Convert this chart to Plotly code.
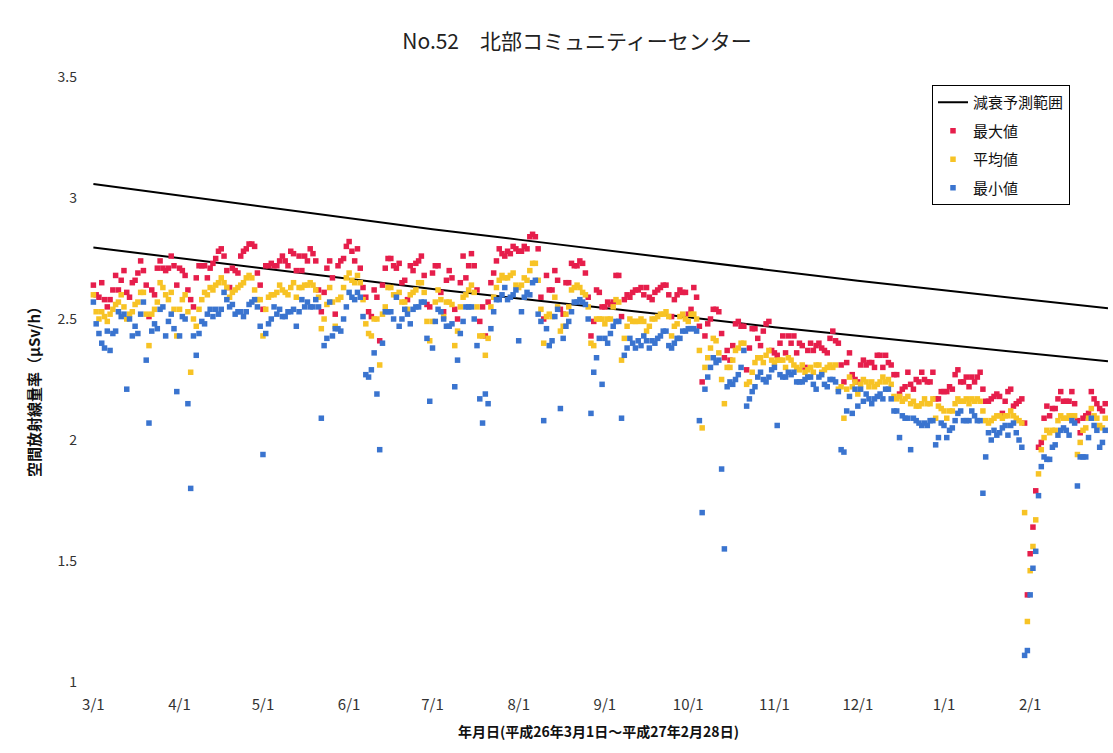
import pandas as pd
import plotly.graph_objects as go

# ---------------- data (μSv/h), daily values grouped by month ----------------
month_starts = ["2014-03-01", "2014-04-01", "2014-05-01", "2014-06-01", "2014-07-01", "2014-08-01",
                "2014-09-01", "2014-10-01", "2014-11-01", "2014-12-01", "2015-01-01", "2015-02-01"]
month_labels = ["3/1", "4/1", "5/1", "6/1", "7/1", "8/1", "9/1", "10/1", "11/1", "12/1", "1/1", "2/1"]

# 最大値
max_mar = [2.64, 2.60, 2.59, 2.65, 2.58, 2.55, 2.58, 2.62, 2.68, 2.62, 2.66, 2.70, 2.61, 2.59, 2.65, 2.66,
           2.69, 2.74, 2.70, 2.64, 2.51, 2.62, 2.60, 2.71, 2.74, 2.71, 2.70, 2.71, 2.76, 2.72, 2.64]
max_apr = [2.71, 2.70, 2.68, 2.62, 2.58, 2.55, 2.67, 2.72, 2.72, 2.72, 2.67, 2.71, 2.73, 2.75, 2.78,
           2.79, 2.76, 2.70, 2.63, 2.71, 2.70, 2.69, 2.76, 2.78, 2.79, 2.81, 2.81, 2.80, 2.69, 2.64]
max_may = [2.54, 2.72, 2.72, 2.73, 2.72, 2.72, 2.74, 2.76, 2.74, 2.72, 2.78, 2.77, 2.70, 2.76, 2.70, 2.76,
           2.74, 2.79, 2.77, 2.74, 2.62, 2.53, 2.61, 2.71, 2.74, 2.67, 2.52, 2.72, 2.74, 2.75, 2.80]
max_jun = [2.82, 2.78, 2.74, 2.79, 2.71, 2.63, 2.59, 2.53, 2.51, 2.62, 2.59, 2.41, 2.64, 2.71, 2.75,
           2.75, 2.72, 2.71, 2.73, 2.65, 2.66, 2.58, 2.72, 2.70, 2.73, 2.74, 2.76, 2.68, 2.56, 2.55]
max_jul = [2.69, 2.72, 2.72, 2.61, 2.53, 2.66, 2.70, 2.67, 2.54, 2.50, 2.65, 2.76, 2.67, 2.72, 2.77, 2.72,
           2.62, 2.49, 2.55, 2.43, 2.57, 2.65, 2.69, 2.74, 2.79, 2.77, 2.76, 2.78, 2.77, 2.80, 2.79]
max_aug = [2.78, 2.78, 2.80, 2.79, 2.84, 2.85, 2.84, 2.79, 2.59, 2.50, 2.68, 2.62, 2.62, 2.70, 2.66, 2.54,
           2.52, 2.65, 2.65, 2.73, 2.72, 2.72, 2.74, 2.73, 2.69, 2.59, 2.43, 2.49, 2.62, 2.61, 2.55]
max_sep = [2.55, 2.57, 2.56, 2.57, 2.68, 2.68, 2.51, 2.58, 2.60, 2.59, 2.61, 2.62, 2.62, 2.63, 2.60,
           2.63, 2.59, 2.58, 2.61, 2.62, 2.63, 2.64, 2.64, 2.60, 2.51, 2.58, 2.60, 2.62, 2.61, 2.61]
max_oct = [2.52, 2.54, 2.63, 2.59, 2.47, 2.24, 2.43, 2.48, 2.50, 2.54, 2.54, 2.53, 2.44, 2.34, 2.37, 2.33,
           2.39, 2.48, 2.49, 2.47, 2.47, 2.29, 2.38, 2.46, 2.46, 2.42, 2.39, 2.45, 2.48, 2.49, 2.37]
max_nov = [2.36, 2.35, 2.40, 2.43, 2.36, 2.43, 2.40, 2.43, 2.36, 2.40, 2.39, 2.30, 2.37, 2.40, 2.37,
           2.39, 2.40, 2.38, 2.37, 2.36, 2.42, 2.45, 2.41, 2.40, 2.31, 2.24, 2.32, 2.36, 2.27, 2.25]
max_dec = [2.24, 2.31, 2.33, 2.31, 2.32, 2.32, 2.30, 2.35, 2.35, 2.30, 2.35, 2.32, 2.31, 2.27, 2.27, 2.19,
           2.21, 2.22, 2.28, 2.23, 2.21, 2.25, 2.24, 2.28, 2.25, 2.24, 2.24, 2.28, 2.17, 2.17, 2.20]
max_jan = [2.20, 2.20, 2.22, 2.21, 2.27, 2.29, 2.24, 2.24, 2.26, 2.22, 2.26, 2.24, 2.26, 2.28, 2.21, 2.16,
           2.16, 2.17, 2.18, 2.19, 2.18, 2.11, 2.16, 2.20, 2.21, 2.14, 2.15, 2.16, 2.17, 2.07, 1.36]
max_feb = [1.53, 1.64, 1.79, 1.97, 1.99, 2.09, 2.14, 2.10, 2.13, 2.13, 2.17, 2.20, 2.16, 2.16,
           2.16, 2.20, 2.15, 2.08, 2.03, 2.09, 2.10, 2.11, 2.20, 2.17, 2.15, 2.13, 2.12, 2.15]

# 平均値
avg_mar = [2.60, 2.53, 2.50, 2.53, 2.51, 2.49, 2.52, 2.54, 2.56, 2.57, 2.60, 2.55, 2.50, 2.52, 2.53, 2.56,
           2.57, 2.61, 2.61, 2.52, 2.39, 2.52, 2.54, 2.57, 2.65, 2.63, 2.60, 2.58, 2.61, 2.54, 2.43]
avg_apr = [2.54, 2.58, 2.60, 2.53, 2.28, 2.50, 2.47, 2.54, 2.58, 2.61, 2.60, 2.63, 2.62, 2.64, 2.65,
           2.67, 2.65, 2.63, 2.59, 2.61, 2.62, 2.63, 2.64, 2.65, 2.67, 2.68, 2.67, 2.62, 2.58, 2.58]
avg_may = [2.43, 2.54, 2.59, 2.60, 2.60, 2.61, 2.64, 2.62, 2.61, 2.60, 2.63, 2.65, 2.59, 2.63, 2.63, 2.64,
           2.64, 2.65, 2.64, 2.62, 2.59, 2.46, 2.50, 2.56, 2.63, 2.57, 2.47, 2.58, 2.59, 2.63, 2.67]
avg_jun = [2.69, 2.66, 2.65, 2.68, 2.65, 2.58, 2.48, 2.44, 2.43, 2.50, 2.50, 2.31, 2.52, 2.55, 2.63,
           2.63, 2.60, 2.60, 2.61, 2.57, 2.57, 2.54, 2.60, 2.61, 2.62, 2.65, 2.65, 2.61, 2.49, 2.41]
avg_jul = [2.49, 2.57, 2.62, 2.58, 2.51, 2.57, 2.57, 2.56, 2.39, 2.45, 2.55, 2.59, 2.60, 2.62, 2.64, 2.61,
           2.55, 2.43, 2.43, 2.35, 2.42, 2.55, 2.59, 2.63, 2.66, 2.68, 2.67, 2.67, 2.68, 2.69, 2.64]
avg_aug = [2.63, 2.64, 2.67, 2.66, 2.70, 2.73, 2.73, 2.66, 2.54, 2.40, 2.51, 2.52, 2.51, 2.59, 2.55, 2.45,
           2.47, 2.52, 2.55, 2.62, 2.63, 2.64, 2.63, 2.61, 2.60, 2.55, 2.40, 2.39, 2.50, 2.50, 2.50]
avg_sep = [2.48, 2.50, 2.50, 2.55, 2.58, 2.57, 2.33, 2.42, 2.47, 2.50, 2.49, 2.49, 2.49, 2.50, 2.49,
           2.45, 2.47, 2.50, 2.50, 2.51, 2.52, 2.52, 2.53, 2.51, 2.43, 2.47, 2.48, 2.51, 2.52, 2.50]
avg_oct = [2.49, 2.52, 2.52, 2.50, 2.37, 2.05, 2.30, 2.34, 2.38, 2.42, 2.41, 2.36, 2.25, 2.15, 2.30, 2.30,
           2.33, 2.37, 2.38, 2.40, 2.40, 2.23, 2.24, 2.28, 2.32, 2.34, 2.34, 2.32, 2.35, 2.37, 2.33]
avg_nov = [2.32, 2.33, 2.33, 2.33, 2.30, 2.34, 2.33, 2.31, 2.30, 2.29, 2.31, 2.28, 2.29, 2.30, 2.28,
           2.31, 2.31, 2.28, 2.29, 2.30, 2.31, 2.30, 2.31, 2.21, 2.22, 2.09, 2.21, 2.26, 2.22, 2.24]
avg_dec = [2.19, 2.23, 2.25, 2.24, 2.22, 2.24, 2.22, 2.23, 2.24, 2.26, 2.24, 2.25, 2.23, 2.18, 2.17, 2.18,
           2.16, 2.17, 2.18, 2.15, 2.16, 2.14, 2.14, 2.15, 2.17, 2.15, 2.15, 2.17, 2.09, 2.14, 2.13]
avg_jan = [2.12, 2.09, 2.12, 2.12, 2.15, 2.17, 2.16, 2.16, 2.17, 2.15, 2.17, 2.16, 2.17, 2.16, 2.12, 2.08,
           2.07, 2.08, 2.09, 2.10, 2.10, 2.09, 2.10, 2.10, 2.12, 2.10, 2.09, 2.08, 2.07, 1.70, 1.25]
avg_feb = [1.46, 1.56, 1.67, 1.86, 1.96, 2.01, 2.04, 2.03, 2.04, 2.04, 2.08, 2.10, 2.09, 2.09,
           2.10, 2.10, 2.10, 1.94, 1.99, 2.04, 2.05, 2.09, 2.13, 2.10, 2.09, 2.06, 2.05, 2.09]

# 最小値
min_mar = [2.57, 2.48, 2.44, 2.40, 2.38, 2.45, 2.37, 2.44, 2.45, 2.53, 2.51, 2.52, 2.21, 2.50, 2.43, 2.47,
           2.44, 2.52, 2.57, 2.33, 2.07, 2.45, 2.48, 2.46, 2.54, 2.55, 2.43, 2.49, 2.52, 2.46, 2.20]
min_apr = [2.43, 2.51, 2.50, 2.15, 1.80, 2.43, 2.35, 2.44, 2.49, 2.48, 2.52, 2.54, 2.51, 2.54, 2.52,
           2.54, 2.61, 2.58, 2.55, 2.56, 2.52, 2.53, 2.53, 2.51, 2.53, 2.56, 2.57, 2.58, 2.55, 2.47]
min_may = [1.94, 2.44, 2.48, 2.50, 2.55, 2.52, 2.54, 2.51, 2.51, 2.53, 2.53, 2.54, 2.47, 2.53, 2.58, 2.55,
           2.57, 2.55, 2.55, 2.58, 2.55, 2.09, 2.39, 2.42, 2.57, 2.43, 2.46, 2.46, 2.45, 2.50, 2.55]
min_jun = [2.61, 2.59, 2.58, 2.61, 2.59, 2.51, 2.27, 2.26, 2.29, 2.36, 2.19, 1.96, 2.40, 2.53, 2.53,
           2.53, 2.50, 2.59, 2.47, 2.50, 2.54, 2.52, 2.48, 2.54, 2.55, 2.55, 2.57, 2.57, 2.42, 2.16]
min_jul = [2.38, 2.49, 2.54, 2.53, 2.50, 2.47, 2.47, 2.48, 2.22, 2.33, 2.44, 2.49, 2.55, 2.55, 2.55, 2.50,
           2.39, 2.17, 2.07, 2.19, 2.15, 2.46, 2.53, 2.58, 2.58, 2.60, 2.63, 2.58, 2.59, 2.60, 2.62]
min_aug = [2.41, 2.53, 2.59, 2.61, 2.60, 2.65, 2.66, 2.52, 2.49, 2.08, 2.46, 2.39, 2.41, 2.51, 2.54, 2.13,
           2.42, 2.47, 2.49, 2.53, 2.57, 2.57, 2.58, 2.57, 2.56, 2.50, 2.11, 2.28, 2.34, 2.42, 2.23]
min_sep = [2.42, 2.40, 2.44, 2.47, 2.49, 2.49, 2.09, 2.35, 2.38, 2.42, 2.40, 2.38, 2.41, 2.39, 2.43,
           2.41, 2.38, 2.41, 2.40, 2.42, 2.43, 2.45, 2.45, 2.39, 2.38, 2.40, 2.42, 2.42, 2.45, 2.45]
min_oct = [2.46, 2.46, 2.46, 2.45, 2.08, 1.70, 2.21, 2.26, 2.30, 2.34, 2.32, 2.33, 1.88, 1.55, 2.22, 2.24,
           2.23, 2.25, 2.27, 2.30, 2.37, 2.14, 2.17, 2.20, 2.22, 2.26, 2.28, 2.25, 2.24, 2.26, 2.29]
min_nov = [2.30, 2.06, 2.27, 2.26, 2.26, 2.28, 2.27, 2.28, 2.24, 2.24, 2.24, 2.25, 2.26, 2.26, 2.23,
           2.21, 2.26, 2.27, 2.23, 2.22, 2.25, 2.25, 2.24, 2.20, 1.96, 1.95, 2.12, 2.18, 2.11, 2.21]
min_dec = [2.14, 2.21, 2.16, 2.19, 2.17, 2.15, 2.17, 2.18, 2.19, 2.17, 2.21, 2.21, 2.17, 2.12, 2.12, 2.01,
           2.10, 2.09, 2.09, 1.96, 2.09, 2.08, 2.07, 2.06, 2.07, 2.06, 2.08, 2.08, 1.98, 2.01, 2.07]
min_jan = [2.06, 2.01, 2.04, 2.05, 2.08, 2.11, 2.12, 2.08, 2.08, 2.08, 2.12, 2.10, 2.08, 2.08, 1.78, 1.93,
           2.03, 2.00, 2.04, 2.02, 2.03, 2.05, 2.06, 2.02, 2.06, 2.07, 2.03, 2.00, 1.97, 1.11, 1.13]
min_feb = [1.36, 1.47, 1.54, 1.77, 1.89, 1.93, 1.92, 1.92, 1.97, 1.98, 2.02, 2.04, 2.05, 2.04,
           2.02, 2.08, 2.07, 1.81, 1.93, 1.93, 1.93, 2.01, 2.09, 2.06, 2.04, 1.97, 1.99, 2.04]

# 減衰予測範囲 (upper / lower bound of the predicted decay)
range_dates = ["2014-03-01", "2014-04-01", "2014-05-01", "2014-06-01", "2014-07-01", "2014-08-01",
               "2014-09-01", "2014-10-01", "2014-11-01", "2014-12-01", "2015-01-01", "2015-02-01",
               "2015-03-01"]
range_upper = [3.058, 3.010, 2.964, 2.916, 2.871, 2.828, 2.785, 2.743, 2.698, 2.658, 2.619, 2.580, 2.544]
range_lower = [2.795, 2.751, 2.709, 2.665, 2.624, 2.585, 2.546, 2.507, 2.466, 2.430, 2.394, 2.358, 2.325]

max_months = [max_mar, max_apr, max_may, max_jun, max_jul, max_aug, max_sep, max_oct, max_nov, max_dec, max_jan, max_feb]
avg_months = [avg_mar, avg_apr, avg_may, avg_jun, avg_jul, avg_aug, avg_sep, avg_oct, avg_nov, avg_dec, avg_jan, avg_feb]
min_months = [min_mar, min_apr, min_may, min_jun, min_jul, min_aug, min_sep, min_oct, min_nov, min_dec, min_jan, min_feb]


def build(months):
    xs, ys = [], []
    for start, vals in zip(month_starts, months):
        xs.extend(pd.date_range(start, periods=len(vals), freq="D"))
        ys.extend(vals)
    return xs, ys


x_max, y_max = build(max_months)
x_avg, y_avg = build(avg_months)
x_min, y_min = build(min_months)

RED = "#E61E4B"
YELLOW = "#F7C325"
BLUE = "#3A74CF"
JP = "Noto Sans CJK JP"

fig = go.Figure()
fig.add_trace(go.Scatter(
    x=pd.to_datetime(range_dates).tolist() + [None] + pd.to_datetime(range_dates).tolist(),
    y=range_upper + [None] + range_lower,
    mode="lines", line=dict(color="black", width=2), connectgaps=False,
    name="減衰予測範囲", legendgroup="g0", hoverinfo="skip"))
fig.add_trace(go.Scatter(x=x_max, y=y_max, mode="markers", name="最大値", legendgroup="g1",
                         marker=dict(symbol="square", size=5.5, color=RED), cliponaxis=False))
fig.add_trace(go.Scatter(x=x_avg, y=y_avg, mode="markers", name="平均値", legendgroup="g2",
                         marker=dict(symbol="square", size=5.5, color=YELLOW), cliponaxis=False))
fig.add_trace(go.Scatter(x=x_min, y=y_min, mode="markers", name="最小値", legendgroup="g3",
                         marker=dict(symbol="square", size=5.5, color=BLUE), cliponaxis=False))

L, R, T, B = 92, 5, 77, 71
W, H = 1113, 753
plot_w = W - L - R
plot_h = H - T - B

fig.update_layout(
    width=W, height=H,
    margin=dict(l=L, r=R, t=T, b=B, pad=0),
    paper_bgcolor="white", plot_bgcolor="white",
    font=dict(family=JP, color="#222222"),
    title=dict(text="No.52　北部コミュニティーセンター", font=dict(family=JP, size=21, color="#222222"),
               xref="paper", x=(577 - L) / plot_w, xanchor="center",
               yref="container", y=1 - 42 / H, yanchor="middle"),
    showlegend=True,
    legend=dict(x=(932 - L) / plot_w, y=(H - B - 85) / plot_h, xanchor="left", yanchor="top",
                bgcolor="white", bordercolor="black", borderwidth=1,
                font=dict(family=JP, size=15, color="#111111"),
                tracegroupgap=6, itemwidth=30),
    xaxis=dict(type="date", range=["2014-02-28 12:00", "2015-03-01 00:00"],
               tickmode="array", tickvals=month_starts, ticktext=month_labels,
               showgrid=False, zeroline=False, showline=False, ticks="",
               ticklabelstandoff=12,
               tickfont=dict(family="Liberation Sans Narrow, " + JP, size=15, color="#333333")),
    yaxis=dict(range=[1, 3.5], tickmode="array", tickvals=[1, 1.5, 2, 2.5, 3, 3.5],
               ticktext=["1", "1.5", "2", "2.5", "3", "3.5"],
               showgrid=False, zeroline=False, showline=False, ticks="",
               ticklabelstandoff=14,
               tickfont=dict(family=JP, size=14, color="#333333")),
    annotations=[
        dict(text="<b>空間放射線量率（μSv/h）</b>", textangle=-90, showarrow=False,
             xref="paper", yref="paper", x=(33 - L) / plot_w, y=(H - B - 388) / plot_h,
             xanchor="center", yanchor="middle", font=dict(family=JP, size=15, color="#111111")),
        dict(text="<b>年月日(平成26年3月1日～平成27年2月28日)</b>", showarrow=False,
             xref="paper", yref="paper", x=(598 - L) / plot_w, y=-(731 - (H - B)) / plot_h,
             xanchor="center", yanchor="middle",
             font=dict(family="Liberation Sans Narrow, " + JP, size=14, color="#111111")),
    ],
)

fig.write_html("out.html", config={"displayModeBar": False},
               post_script="document.body.style.margin='0';document.body.style.overflow='hidden';")
